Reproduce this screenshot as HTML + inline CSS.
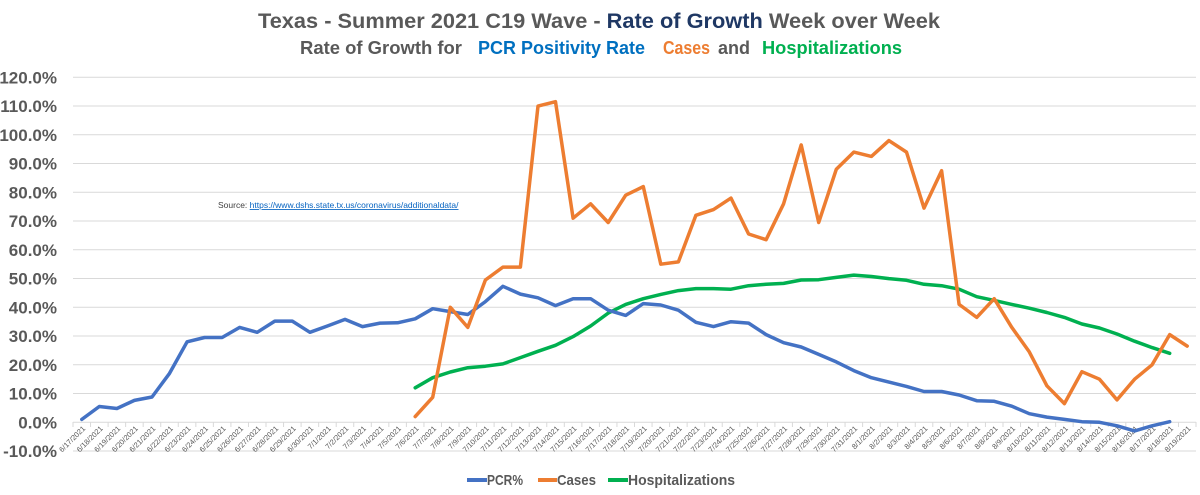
<!DOCTYPE html>
<html><head><meta charset="utf-8"><style>
body{margin:0;background:#fff}
svg{display:block;font-family:"Liberation Sans",sans-serif}
</style></head><body>
<svg id="chart" width="1200" height="495" viewBox="0 0 1200 495" xmlns="http://www.w3.org/2000/svg">
<text x="258" y="28" font-size="21" font-weight="bold" fill="#595959" textLength="682" lengthAdjust="spacingAndGlyphs">Texas - Summer 2021 C19 Wave - <tspan fill="#1f3864">Rate of Growth</tspan> Week over Week</text>
<g font-size="18" font-weight="bold">
<text x="300" y="54" fill="#595959" textLength="162" lengthAdjust="spacingAndGlyphs">Rate of Growth for</text>
<text x="478" y="54" fill="#0070c0" textLength="167" lengthAdjust="spacingAndGlyphs">PCR Positivity Rate</text>
<text x="663" y="54" fill="#ed7d31" textLength="47" lengthAdjust="spacingAndGlyphs">Cases</text>
<text x="718" y="54" fill="#595959" textLength="32" lengthAdjust="spacingAndGlyphs">and</text>
<text x="762" y="54" fill="#00b050" textLength="140" lengthAdjust="spacingAndGlyphs">Hospitalizations</text>
</g>
<text x="218" y="208" font-size="8.5" fill="#404040">Source:  <tspan fill="#0563c1" text-decoration="underline">https://www.dshs.state.tx.us/coronavirus/additionaldata/</tspan></text>
<g id="grid"></g><g id="xlabels"></g><g id="ylabels"></g><g id="series"></g>
<g font-size="15" font-weight="bold" fill="#595959">
<line x1="467" y1="480" x2="487" y2="480" stroke="#4472c4" stroke-width="4"/>
<text x="487" y="485" textLength="36" lengthAdjust="spacingAndGlyphs">PCR%</text>
<line x1="538" y1="480" x2="557" y2="480" stroke="#ed7d31" stroke-width="4"/>
<text x="557" y="485" textLength="39" lengthAdjust="spacingAndGlyphs">Cases</text>
<line x1="608" y1="480" x2="628" y2="480" stroke="#00b050" stroke-width="4"/>
<text x="628" y="485" textLength="107" lengthAdjust="spacingAndGlyphs">Hospitalizations</text>
</g>
</svg>
<script>
const yTicks=[-10,0,10,20,30,40,50,60,70,80,90,100,110,120];
const startIdx=19;
const pcr=[1,5.5,4.8,7.6,8.8,17,28,29.5,29.5,33,31.3,35.2,35.2,31.3,33.5,35.8,33.3,34.5,34.6,36,39.5,38.5,37.5,42,47.3,44.6,43.3,40.6,43,43,39,37.2,41.3,40.8,39,34.8,33.3,35,34.5,30.5,27.7,26.2,23.6,21,18,15.5,14,12.5,10.7,10.7,9.5,7.5,7.3,5.6,3,1.8,1,0.2,0,-1.2,-3,-1.2,0.2];
const cases=[2,8.7,40,33,49.5,54,54,110,111.5,71,76,69.5,79,82,55,55.8,72,74,78,65.5,63.5,76,96.5,69.5,88,94,92.5,98,94,74.5,87.5,41,36.5,43,33,24.5,12.7,6.5,17.6,15,7.8,15,20,30.5,26.5];
const hosp=[12,15.5,17.5,19,19.5,20.3,22.5,24.7,26.8,29.8,33.5,38,41,43,44.5,45.8,46.5,46.5,46.3,47.5,48,48.3,49.5,49.6,50.4,51.2,50.7,50,49.4,48,47.5,46.3,43.7,42.4,41,39.7,38.2,36.5,34.2,32.8,30.7,28.2,26,24];
const dates=[];
for(let d=17;d<=30;d++)dates.push('6/'+d+'/2021');
for(let d=1;d<=31;d++)dates.push('7/'+d+'/2021');
for(let d=1;d<=19;d++)dates.push('8/'+d+'/2021');
const NS='http://www.w3.org/2000/svg';
const L=73,R=1196,n=dates.length,bw=(R-L)/n;
const x=i=>L+bw*(i+0.5);
const y=v=>422.3-v*2.875;
function mk(tag,attrs,parent){const e=document.createElementNS(NS,tag);for(const k in attrs)e.setAttribute(k,attrs[k]);document.getElementById(parent).appendChild(e);return e;}
yTicks.forEach(t=>{
  const g=mk('line',{x1:L,x2:R,y1:y(t),y2:y(t),stroke:'#d9d9d9','stroke-width':1},'grid');
  
  
  const lb=mk('text',{x:57,y:y(t)+6,'text-anchor':'end','font-size':17,'font-weight':'bold',fill:'#595959'},'ylabels');
  lb.textContent=t.toFixed(1)+'%';
  
  
});
for(let i=0;i<=n;i++){
  const tk=mk('line',{x1:L+bw*i,x2:L+bw*i,y1:422,y2:427,stroke:'#d9d9d9'},'grid');
  
  
}
dates.forEach((d,i)=>{
  const t=mk('text',{x:0,y:0,'text-anchor':'end','font-size':7.5,fill:'#595959',transform:`translate(${x(i)+4},${429}) rotate(-45)`},'xlabels');
  t.textContent=d;
  
  
});
function line(vals,off,color,name){
  const pts=vals.map((v,i)=>x(i+off).toFixed(1)+','+y(v).toFixed(1)).join(' ');
  const p=mk('polyline',{points:pts,fill:'none',stroke:color,'stroke-width':3.5,'stroke-linejoin':'round','stroke-linecap':'round'},'series');
  
  
}
line(hosp,startIdx,'#00b050','hospitalizations-line');
line(pcr,0,'#4472c4','pcr-line');
line(cases,startIdx,'#ed7d31','cases-line');
</script>
</body></html>
